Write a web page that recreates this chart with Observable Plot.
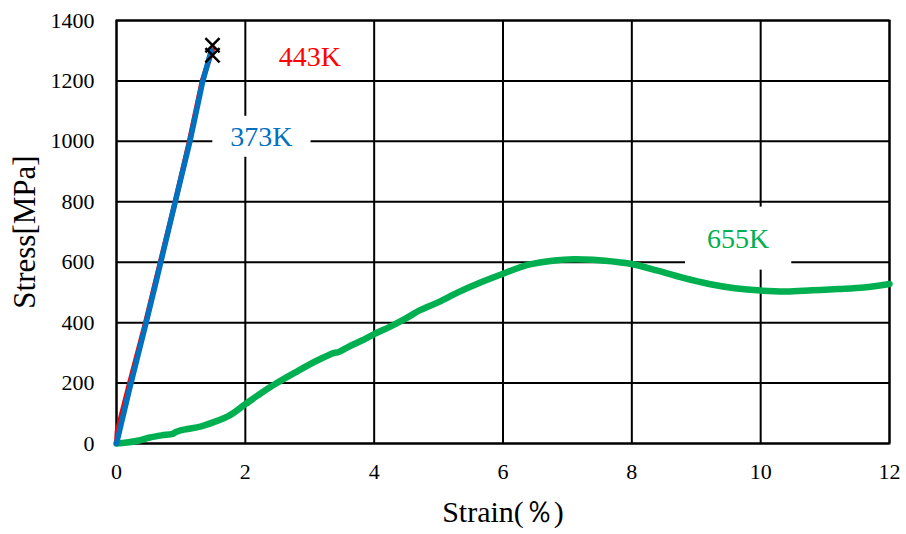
<!DOCTYPE html>
<html><head><meta charset="utf-8">
<script src="https://cdn.jsdelivr.net/npm/d3@7"></script>
<script src="https://cdn.jsdelivr.net/npm/@observablehq/plot@0.6"></script>
<style>
body{margin:0;background:#fff}
</style>
</head><body><div id="chart"></div>
<script>
// 443K series (red)
const strain443 = [0, 0.01, 0.19, 0.45, 0.61, 0.9, 1.13, 1.33, 1.49];
const stress443 = [0, 40, 190, 400, 540, 790, 1000, 1200, 1303];
// 373K series (blue)
const strain373 = [0, 0.2, 0.46, 0.62, 0.9, 1.14, 1.34, 1.47];
const stress373 = [0, 178, 400, 540, 790, 1000, 1200, 1300];
// 655K series (green)
const strain655 = [0, 0.16, 0.35, 0.52, 0.7, 0.87, 0.92, 0.97, 1.1, 1.3, 1.5, 1.75, 2.0, 2.2, 2.45, 2.8, 3.1, 3.38, 3.45, 3.6, 3.8, 4.0, 4.25, 4.5, 4.72, 5.0, 5.3, 5.64, 6.0, 6.4, 6.8, 7.1, 7.4, 7.8, 8.0, 8.4, 8.8, 9.2, 9.6, 10.0, 10.4, 10.8, 11.2, 11.6, 12.0];
const stress655 = [0, 3, 10, 20, 27, 32, 38, 42, 48, 56, 70, 92, 130, 160, 195, 238, 273, 300, 303, 320, 340, 362, 387, 415, 442, 468, 500, 532, 562, 592, 606, 610, 608, 600, 594, 572, 548, 528, 514, 506, 503, 507, 511, 516, 528];
// fracture markers
const fractureStrain = [1.49, 1.49];
const fractureStress = [1318, 1285];
// labels
const labelTexts = ["443K", "373K", "655K"];
const labelX = [3.0, 2.25, 9.65];
const labelY = [1280, 1015, 678];
const labelColors = ["#FF0000", "#0070C0", "#00B050"];
const boxPadX = [6, 18, 22];
const boxPadY = [2, 5, 16];
// ticks
const xTicks = [0, 2, 4, 6, 8, 10, 12];
const yTicks = [0, 200, 400, 600, 800, 1000, 1200, 1400];
const xTitle = "Strain(％)";
const yTitle = "Stress[MPa]";

const series = (xs, ys) => xs.map((x, i) => ({x, y: ys[i]}));
const labels = labelTexts.map((t, i) => ({t, x: labelX[i], y: labelY[i], c: labelColors[i]}));

const chart = Plot.plot({
  width: 906, height: 534,
  marginLeft: 116, marginRight: 17, marginTop: 20, marginBottom: 91,
  style: {fontFamily: "'Liberation Serif','Times New Roman',serif", fontSize: "22px", background: "white", color: "black", overflow: "visible"},
  x: {domain: [0, 12], label: null},
  y: {domain: [0, 1400], label: null},
  marks: [
    Plot.gridX(xTicks, {stroke: "black", strokeOpacity: 1, strokeWidth: 2}),
    Plot.gridY(yTicks, {stroke: "black", strokeOpacity: 1, strokeWidth: 2}),
    Plot.frame({stroke: "black", strokeWidth: 2}),
    Plot.axisX(xTicks, {tickSize: 0, tickPadding: 20, fontSize: 22, label: null, tickFormat: d => String(d)}),
    Plot.axisY(yTicks, {tickSize: 0, tickPadding: 22, fontSize: 22, label: null, tickFormat: d => String(d)}),
    Plot.line(series(strain655, stress655), {x: "x", y: "y", stroke: "#00B050", strokeWidth: 6.5, curve: "catmull-rom"}),
    Plot.line(series(strain443, stress443), {x: "x", y: "y", stroke: "#FF0000", strokeWidth: 5}),
    Plot.line(series(strain373, stress373), {x: "x", y: "y", stroke: "#0070C0", strokeWidth: 5.5}),
    Plot.dot(series(fractureStrain, fractureStress), {x: "x", y: "y", symbol: "times", r: 6.5, stroke: "black", strokeWidth: 2.5}),
    Plot.text(labels, {x: "x", y: "y", text: "t", fill: "c", fontSize: 28}),
    Plot.text([xTitle], {frameAnchor: "bottom", lineAnchor: "middle", textAnchor: "middle", dy: 69, fontSize: 30}),
    Plot.text([yTitle], {frameAnchor: "left", lineAnchor: "middle", textAnchor: "middle", dx: -91, rotate: -90, fontSize: 31})
  ]
});
document.getElementById("chart").appendChild(chart);

// white boxes behind the series labels
chart.querySelectorAll("text").forEach(el => {
  const i = labelTexts.indexOf(el.textContent);
  if (i < 0) return;
  const b = el.getBBox();
  const r = document.createElementNS("http://www.w3.org/2000/svg", "rect");
  r.setAttribute("x", b.x - boxPadX[i]);
  r.setAttribute("y", b.y - boxPadY[i]);
  r.setAttribute("width", b.width + 2 * boxPadX[i]);
  r.setAttribute("height", b.height + 2 * boxPadY[i]);
  r.setAttribute("fill", "white");
  const tr = el.getAttribute("transform");
  if (tr) r.setAttribute("transform", tr);
  el.parentNode.insertBefore(r, el);
});
</script>
</body></html>
